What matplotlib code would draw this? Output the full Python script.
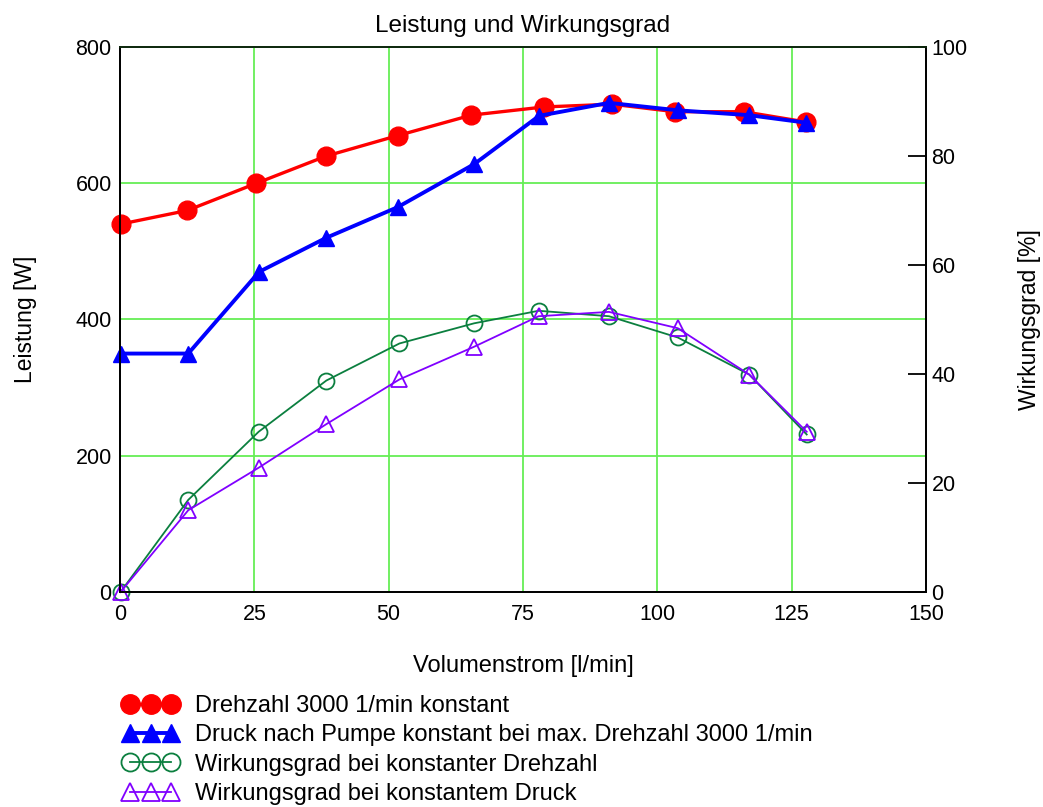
import matplotlib
matplotlib.use("Agg")
import matplotlib.pyplot as plt
from matplotlib.lines import Line2D

plt.rcParams['font.family'] = ['Liberation Sans', 'DejaVu Sans']

# Data
x_red = [0.1, 12.5, 25.4, 38.4, 51.7, 65.4, 78.9, 91.6, 103.3, 116.1, 127.6]
p_red = [540, 560, 600, 640, 670, 700, 712, 716, 705, 705, 690]
x_blue = [0.1, 12.7, 25.9, 38.4, 51.7, 65.9, 78.0, 91.0, 103.9, 117.0, 127.6]
p_blue = [350, 350, 470, 520, 565, 628, 699, 718, 707, 700, 689]
x_eff = [0.1, 12.7, 25.8, 38.4, 52.0, 65.9, 77.9, 91.0, 103.8, 117.1, 127.8]
eff_n = [0, 16.9, 29.4, 38.8, 45.6, 49.3, 51.6, 50.6, 46.7, 39.9, 28.9]
eff_p = [0, 15.0, 22.8, 30.8, 39.0, 45.0, 50.6, 51.4, 48.4, 39.9, 29.4]

labels = ["Drehzahl 3000 1/min konstant",
          "Druck nach Pumpe konstant bei max. Drehzahl 3000 1/min",
          "Wirkungsgrad bei konstanter Drehzahl",
          "Wirkungsgrad bei konstantem Druck"]
x_ticks = [0, 25, 50, 75, 100, 125, 150]
yl_ticks = [0, 200, 400, 600, 800]
yr_ticks = [0, 20, 40, 60, 80, 100]

fig = plt.figure(figsize=(10.43, 8.07), dpi=100)
ax = fig.add_axes([120/1043, 1-592/807, 806/1043, 545/807])
ax2 = ax.twinx()

grid_c = '#66ee55'
for v in x_ticks[1:-1]:
    ax.axvline(v, color=grid_c, lw=1.3, zorder=0)
for v in yl_ticks[1:-1]:
    ax.axhline(v, color=grid_c, lw=1.3, zorder=0)

red = '#ff0000'
blue = '#0000ff'
green = '#0b7f3f'
purple = '#8000ff'

ax.plot(x_red, p_red, color=red, lw=2.4, marker='o', ms=13.5, zorder=3, clip_on=False)
ax.plot(x_blue, p_blue, color=blue, lw=2.8, marker='^', ms=12, zorder=4, clip_on=False)
ax2.plot(x_eff, eff_n, color=green, lw=1.3, marker='o', ms=11.5, mfc='none', mew=1.3, clip_on=False)
ax2.plot(x_eff, eff_p, color=purple, lw=1.3, marker='^', ms=11.5, mfc='none', mew=1.3, clip_on=False)

ax.set_xlim(0, 150)
ax.set_ylim(0, 800)
ax2.set_ylim(0, 100)
ax.set_xticks(x_ticks)
ax.set_yticks(yl_ticks)
ax2.set_yticks(yr_ticks)
ax.tick_params(axis='x', length=0, labelsize=15.5, pad=9)
ax.tick_params(axis='y', length=0, labelsize=15.5, pad=6)
ax2.tick_params(axis='y', direction='in', length=13, width=1.3, labelsize=15.5, pad=4)

for a in (ax, ax2):
    for s in a.spines.values():
        s.set_linewidth(1.3)
ax.spines['top'].set_color('#0e2a0e')
ax2.spines['top'].set_color('#0e2a0e')

ax.set_title("Leistung und Wirkungsgrad", fontsize=17.5, pad=11)
ax.set_xlabel("Volumenstrom [l/min]", fontsize=17, labelpad=21)
ax.set_ylabel("Leistung [W]", fontsize=16.5, labelpad=28)
ax2.set_ylabel("Wirkungsgrad [%]", fontsize=16.5, labelpad=36)

handles = [
    Line2D([], [], color=red, lw=2.4, marker='o', ms=14),
    Line2D([], [], color=blue, lw=2.8, marker='^', ms=13),
    Line2D([], [], color=green, lw=1.3, marker='o', ms=13, mfc='none', mew=1.3),
    Line2D([], [], color=purple, lw=1.3, marker='^', ms=13, mfc='none', mew=1.3),
]
fig.legend(handles, labels, loc='upper left', bbox_to_anchor=(123/1043, 1-695/807),
           frameon=False, numpoints=3, fontsize=17, handlelength=2.35,
           handletextpad=0.7, labelspacing=0.31, borderaxespad=0, borderpad=0)

fig.savefig("out.png", dpi=100)
